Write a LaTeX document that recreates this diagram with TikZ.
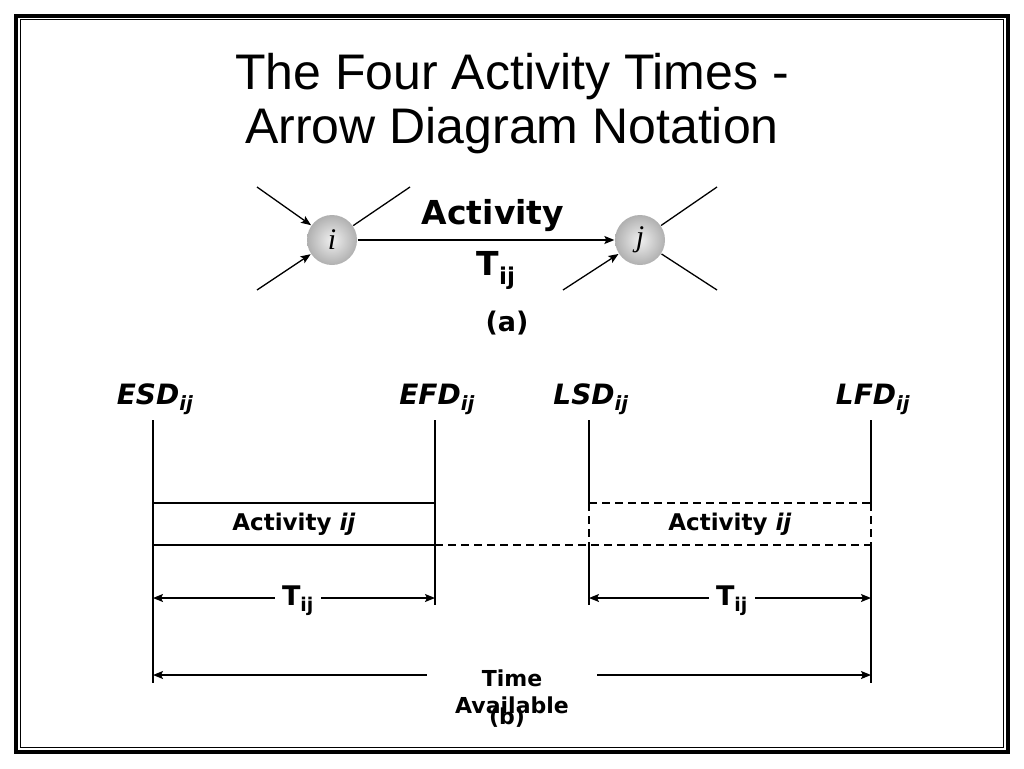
\documentclass[tikz,border=0pt]{standalone}
\usepackage{fontspec}
\setmainfont{Liberation Sans}
\newfontfamily\comicfont{DejaVu Sans}
\newfontfamily\nodefont{Liberation Serif}
\usepackage{tikz}
\usetikzlibrary{calc, arrows.meta}

\newcommand{\subIJ}{\textsubscript{ij}}

\tikzset{
	tip/.tip = {Stealth[length = 10pt, width = 8pt, inset = 2pt]},
	title/.style = {font = \fontsize{50}{54}\selectfont, inner sep = 0pt},
	event/.style = {circle, minimum size = 50pt, inner sep = 0pt, shading = radial, inner color = gray!12, outer color = gray!62, font = \nodefont\itshape\fontsize{30}{30}\selectfont},
	biglabel/.style = {font = \comicfont\bfseries\fontsize{33}{36}\selectfont, inner sep = 0pt},
	timelabel/.style = {font = \comicfont\bfseries\itshape\fontsize{28}{30}\selectfont, inner sep = 0pt, anchor = base},
	boxlabel/.style = {font = \comicfont\bfseries\fontsize{23}{25}\selectfont, inner sep = 0pt},
	dimlabel/.style = {font = \comicfont\bfseries\fontsize{27}{29}\selectfont, fill = white, inner xsep = 7pt, inner ysep = 2pt},
	caption/.style = {font = \comicfont\bfseries\fontsize{22}{27}\selectfont, inner sep = 0pt, align = center}
}

\begin{document}
\begin{tikzpicture}[x = 1pt, y = -1pt, line width = 1.3pt]
					\def\xA{153};
					\def\xB{435};
					\def\xC{589};
					\def\xD{871};
					\def\yTop{420};
					\def\yBoxT{503};
					\def\yBoxB{545};
					\def\yDim{598};
					\def\yAvail{675};

					\useasboundingbox (0,0) rectangle (1024,768);

					\begin{scope}
						\draw[line width = 4pt] (16,16) rectangle (1008,752);
						\draw[line width = 1pt] (20,20) rectangle (1003.5,747.5);
					\end{scope}

					\node[title, anchor = base] (title1) at (512,89) {The Four Activity Times -};
					\node[title, anchor = base] (title2) at (512,143) {Arrow Diagram Notation};

					\node[event] (i) at (332,240) {i};
					\node[event] (j) at (640,240) {j};

					\coordinate (iIn1) at (257,187);
					\coordinate (iIn2) at (257,290);
					\coordinate (iOut) at (410,187);
					\coordinate (jIn) at (563,290);
					\coordinate (jOut1) at (717,187);
					\coordinate (jOut2) at (717,290);

					\begin{scope}[-tip]
						\draw (iIn1) -- (i);
						\draw (iIn2) -- (i);
						\draw (i) -- (j);
						\draw (jIn) -- (j);
					\end{scope}

					\begin{scope}
						\draw (i) -- (iOut);
						\draw (j) -- (jOut1);
						\draw (j) -- (jOut2);
					\end{scope}

					\node[biglabel] (activity) at (493,216) {Activity};
					\node[biglabel] (tij) at (496,270) {T\subIJ};
					\node[caption, font = \comicfont\bfseries\fontsize{27}{30}\selectfont] (capA) at (507,323) {(a)};

					\foreach \x/\name in {\xA/ESD, \xB/EFD, \xC/LSD, \xD/LFD}
					{
						\node[timelabel] (\name) at (\x+2,404) {\name\subIJ};
					}

					\begin{scope}
						\draw (\xA,\yTop) -- (\xA,683);
						\draw (\xB,\yTop) -- (\xB,605);
						\draw (\xC,\yTop) -- (\xC,\yBoxT);
						\draw (\xC,\yBoxB) -- (\xC,605);
						\draw (\xD,\yTop) -- (\xD,\yBoxT);
						\draw (\xD,\yBoxB) -- (\xD,683);
						\draw (\xA,\yBoxT) -- (\xB,\yBoxT);
						\draw[line width = 2.2pt] (\xA,\yBoxB) -- (\xB,\yBoxB);
					\end{scope}

					\begin{scope}[dash pattern = on 8pt off 5pt]
						\draw (\xC,\yBoxT) -- (\xD,\yBoxT);
						\draw[line width = 1.8pt] (\xB,\yBoxB) -- (\xD,\yBoxB);
						\draw (\xC,\yBoxT) -- (\xC,\yBoxB);
						\draw (\xD,\yBoxT) -- (\xD,\yBoxB);
					\end{scope}

					\node[boxlabel] (act1) at ({(\xA+\xB)/2},524) {Activity \textit{ij}};
					\node[boxlabel] (act2) at ({(\xC+\xD)/2},524) {Activity \textit{ij}};

					\coordinate (dA) at (\xA,\yDim);
					\coordinate (dB) at (\xB,\yDim);
					\coordinate (dC) at (\xC,\yDim);
					\coordinate (dD) at (\xD,\yDim);
					\coordinate (avA) at (\xA,\yAvail);
					\coordinate (avD) at (\xD,\yAvail);

					\begin{scope}[tip-tip]
						\draw (dA) -- (dB) node[midway, dimlabel, xshift = 4pt, yshift = -3pt] (tLeft) {T\subIJ};
						\draw (dC) -- (dD) node[midway, dimlabel, xshift = 2pt, yshift = -3pt] (tRight) {T\subIJ};
						\draw (avA) -- (avD);
					\end{scope}

					\node[caption, fill = white, inner xsep = 28pt, inner ysep = 8pt] (avail) at (512,692) {Time\\Available};
					\node[caption] (capB) at (507,718) {(b)};
				\end{tikzpicture}
\end{document}
